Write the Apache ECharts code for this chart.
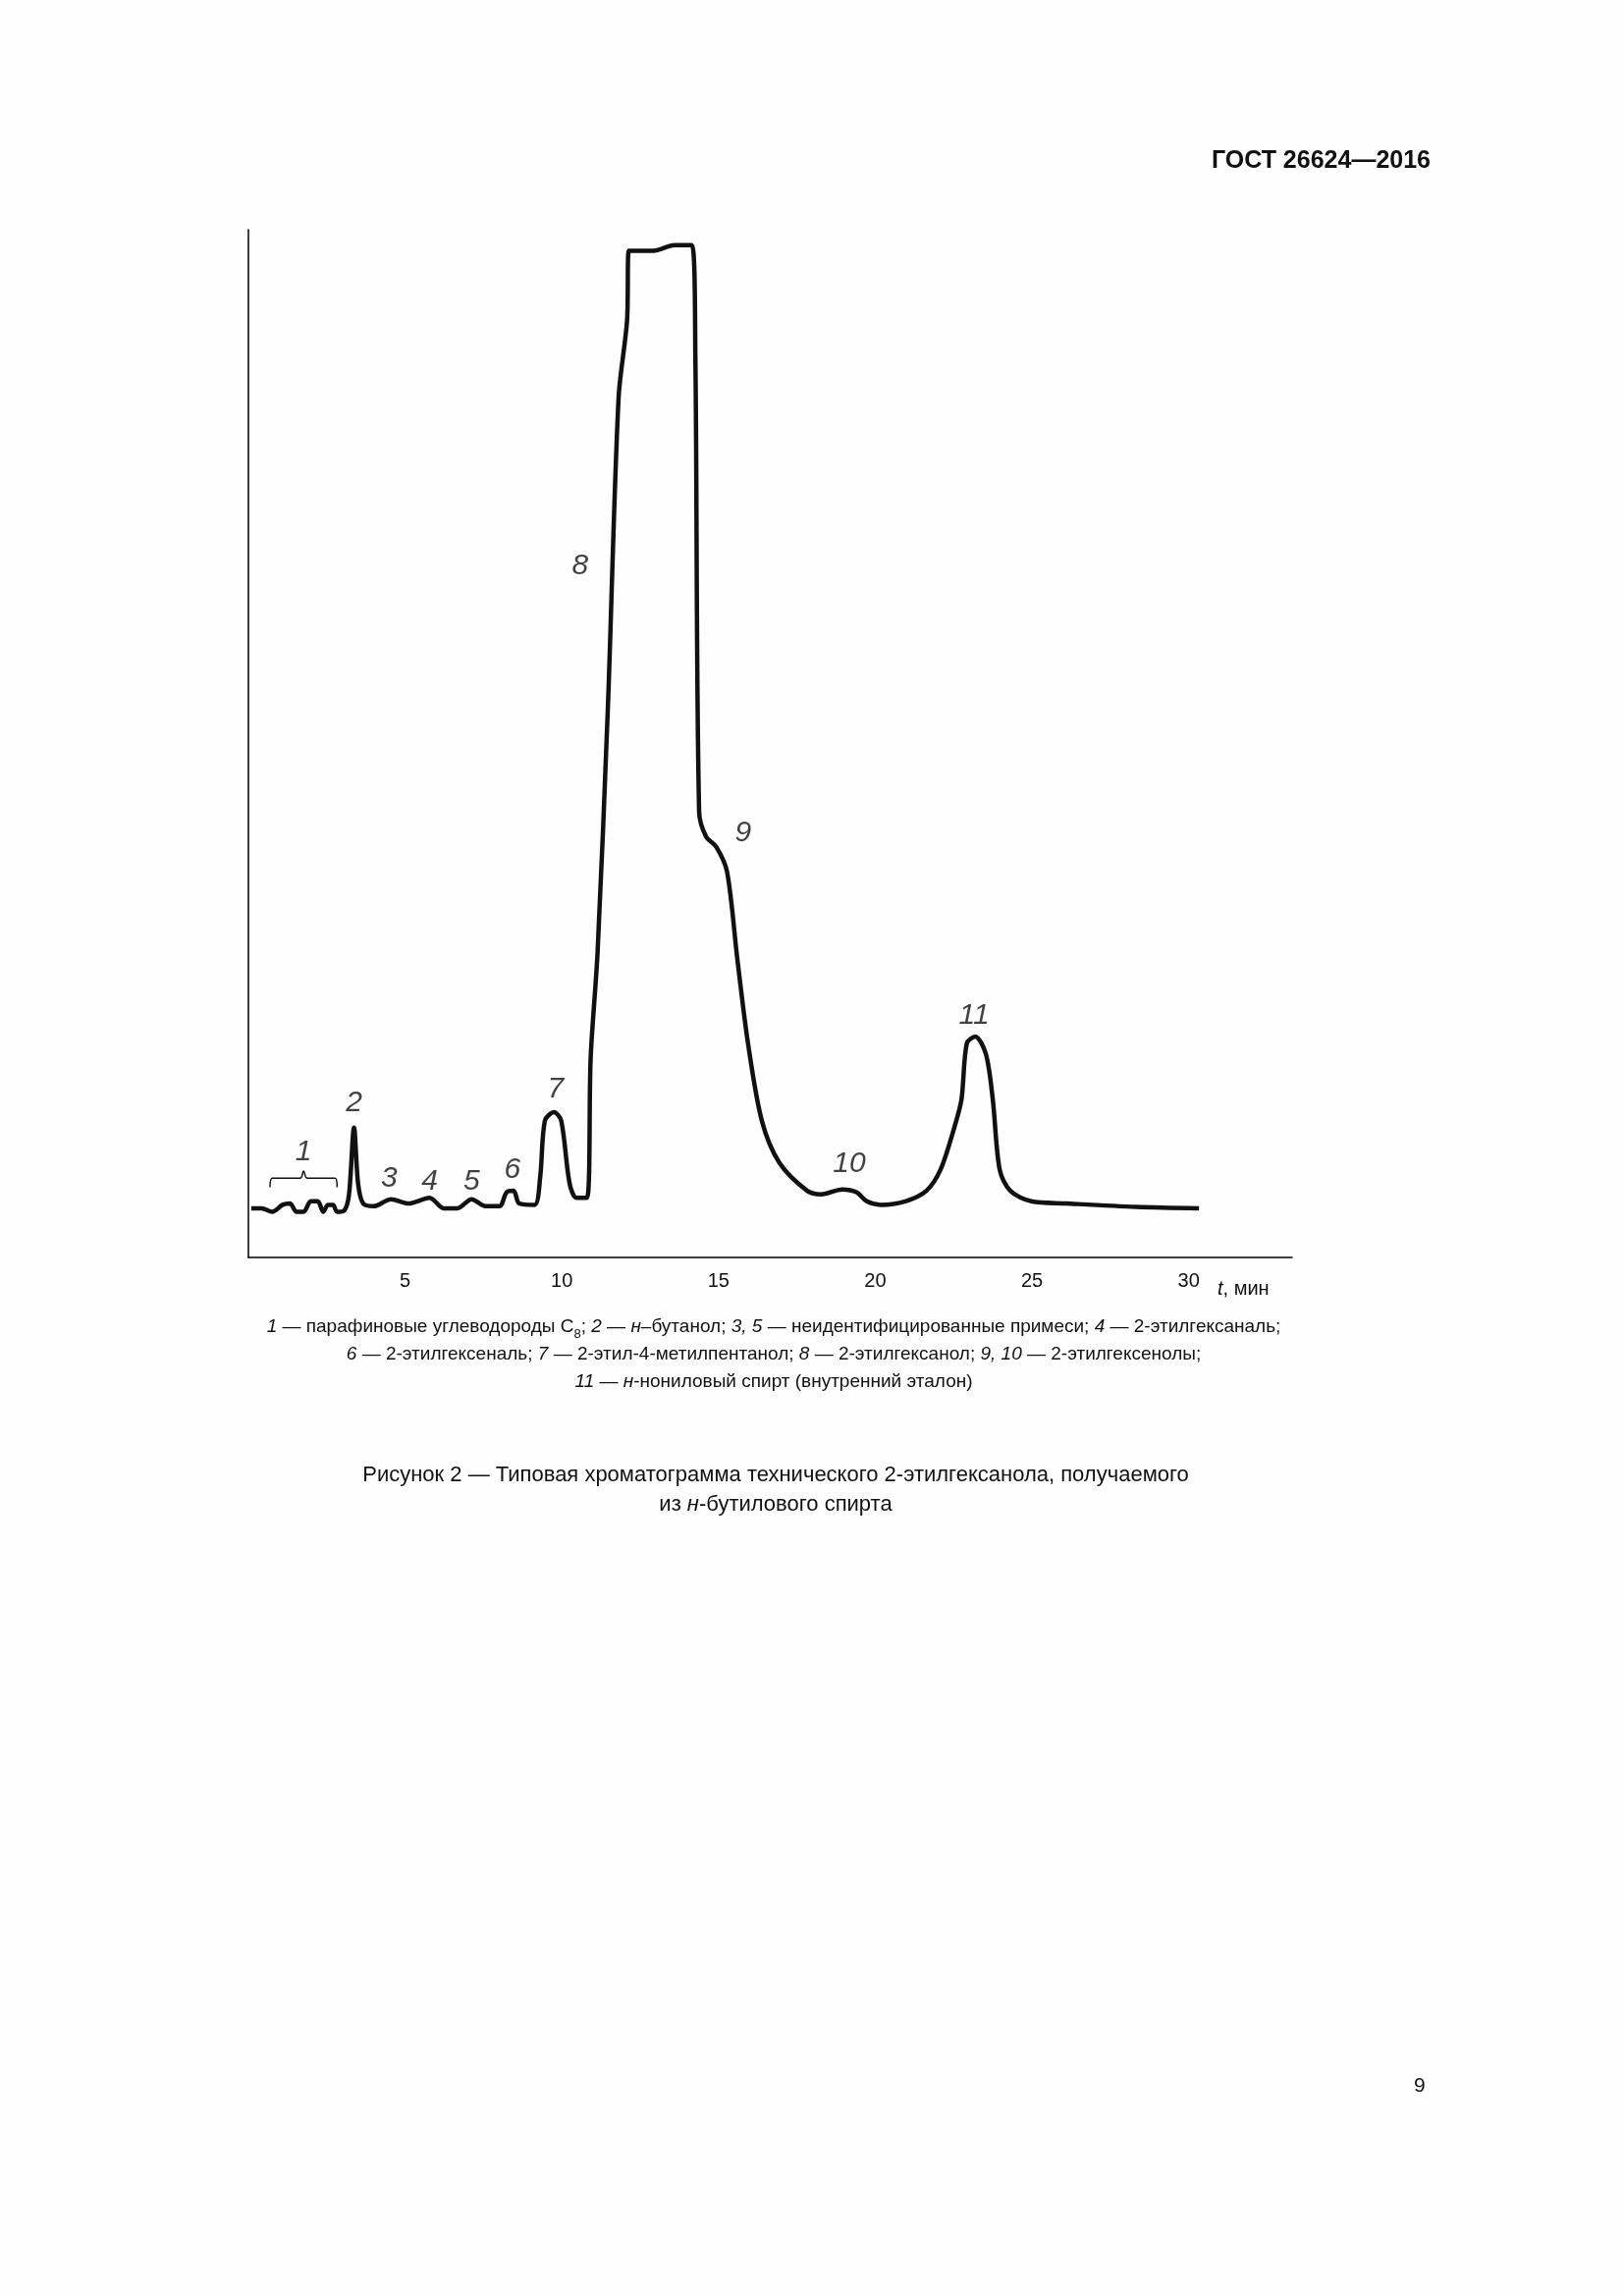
<!DOCTYPE html>
<html><head><meta charset="utf-8">
<script src="https://cdn.jsdelivr.net/npm/echarts@6/dist/echarts.min.js"></script>
<style>html,body{margin:0;background:#fff}#c{width:1654px;height:2339px}</style>
</head><body><div id="c"></div>
<script>
// хроматограмма: время, мин / отклик (усл. ед.)
var times = [0.09,0.42,0.76,1.09,1.32,1.54,1.76,1.99,2.21,2.39,2.54,2.70,2.83,3.06,3.21,3.37,3.50,3.66,4.00,4.55,5.11,5.78,6.23,6.67,7.12,7.57,8.01,8.24,8.46,8.64,9.13,9.31,9.46,9.75,9.98,10.25,10.47,10.80,10.92,11.14,11.47,11.81,12.08,12.14,12.92,13.59,14.15,14.26,14.38,14.60,14.93,15.27,15.60,15.94,16.38,16.94,17.83,18.28,18.95,19.40,19.73,20.18,20.96,21.63,22.08,22.52,22.75,22.92,23.19,23.53,23.75,23.97,24.31,24.98,26.09,28.33,30.33];
var signal = [70,70,65,75,77,65,65,80,80,65,75,75,65,67,90,185,105,77,73,83,77,85,70,70,83,73,73,93,95,77,75,115,195,207,195,105,85,85,285,435,785,1225,1335,1435,1435,1443,1443,1285,635,600,585,550,425,305,195,135,95,90,97,93,80,75,80,95,125,185,225,305,315,290,225,125,95,80,77,72,70];
// номера пиков
var peakNames = ['1','2','3','4','5','6','7','8','9','10','11'];
var peakT = [1.76,3.37,4.49,5.78,7.12,8.42,9.80,10.58,15.78,19.17,23.15];
var peakV = [150,220,112,108,108,125,240,985,605,133,345];
// фигурная скобка над группой 1
var braceT = [0.69,0.76,1.65,1.76,1.88,2.77,2.83];
var braceV = [100,113,113,123,113,113,100];
var xTicks = [5,10,15,20,25,30];

var chart = echarts.init(document.getElementById('c'));
var font = 'Liberation Sans, Arial, sans-serif';
var option = {
    backgroundColor: '#fefefe',
    animation: false,
    grid: {left: 253, right: 338, top: 234, bottom: 1058},
    xAxis: {
        type: 'value', min: 0, max: 33.3, interval: 5,
        axisLine: {lineStyle: {color: '#000', width: 1.5}},
        axisTick: {show: false},
        splitLine: {show: false},
        axisLabel: {
            margin: 14, color: '#111', fontSize: 20, fontFamily: font,
            formatter: function (v) { return xTicks.indexOf(v) >= 0 ? String(v) : ''; }
        }
    },
    yAxis: {
        type: 'value', min: 0, max: 1465,
        axisLine: {show: true, lineStyle: {color: '#000', width: 1.5}},
        axisTick: {show: false}, axisLabel: {show: false}, splitLine: {show: false}
    },
    series: [
        {
            type: 'line', data: times.map(function (t, i) { return [t, signal[i]]; }),
            symbol: 'none', smooth: 0.3,
            lineStyle: {color: '#111', width: 4.5}
        },
        {
            type: 'line', data: braceT.map(function (t, i) { return [t, braceV[i]]; }),
            symbol: 'none', smooth: 0.4, lineStyle: {color: '#111', width: 1.5}
        },
        {
            type: 'scatter', symbolSize: 0,
            data: peakT.map(function (t, i) { return {value: [t, peakV[i]], name: peakNames[i]}; }),
            label: {
                show: true, position: 'inside', formatter: '{b}',
                color: '#111', fontSize: 30, fontStyle: 'italic', fontFamily: font
            }
        }
    ],
    graphic: [
        {type: 'text', left: 1240, top: 1303, style: {
            text: '{i|t}, мин', font: '20px ' + font, fill: '#111',
            rich: {i: {fontStyle: 'italic', fontSize: 20, fontFamily: font}}}},
        {type: 'text', right: 197, top: 152, style: {
            text: 'ГОСТ 26624—2016', font: 'bold 25px ' + font, fill: '#111'}},
        {type: 'text', left: 1440, top: 2115, style: {text: '9', font: '21px ' + font, fill: '#111'}},
        {type: 'text', x: 788, y: 1380, style: {
            text: '{i|1} — парафиновые углеводороды С{s|8}; {i|2 — н}–бутанол; {i|3, 5} — неидентифицированные примеси; {i|4} — 2-этилгексаналь;\n' +
                  '{i|6} — 2-этилгексеналь; {i|7} — 2-этил-4-метилпентанол; {i|8} — 2-этилгексанол; {i|9, 10} — 2-этилгексенолы;\n' +
                  '{i|11} — {i|н}-нониловый спирт (внутренний эталон)',
            font: '19px ' + font, fill: '#111', align: 'center', verticalAlign: 'middle', lineHeight: 28,
            rich: {i: {fontStyle: 'italic', fontSize: 19, fontFamily: font},
                   s: {fontSize: 13, fontFamily: font, verticalAlign: 'bottom', padding: [10, 0, 0, 0]}}}},
        {type: 'text', x: 790, y: 1518, style: {
            text: 'Рисунок 2 — Типовая хроматограмма технического 2-этилгексанола, получаемого\nиз {i|н}-бутилового спирта',
            font: '22px ' + font, fill: '#111', align: 'center', verticalAlign: 'middle', lineHeight: 30,
            rich: {i: {fontStyle: 'italic', fontSize: 22, fontFamily: font}}}}
    ]
};
chart.setOption(option);
</script>
</body></html>
